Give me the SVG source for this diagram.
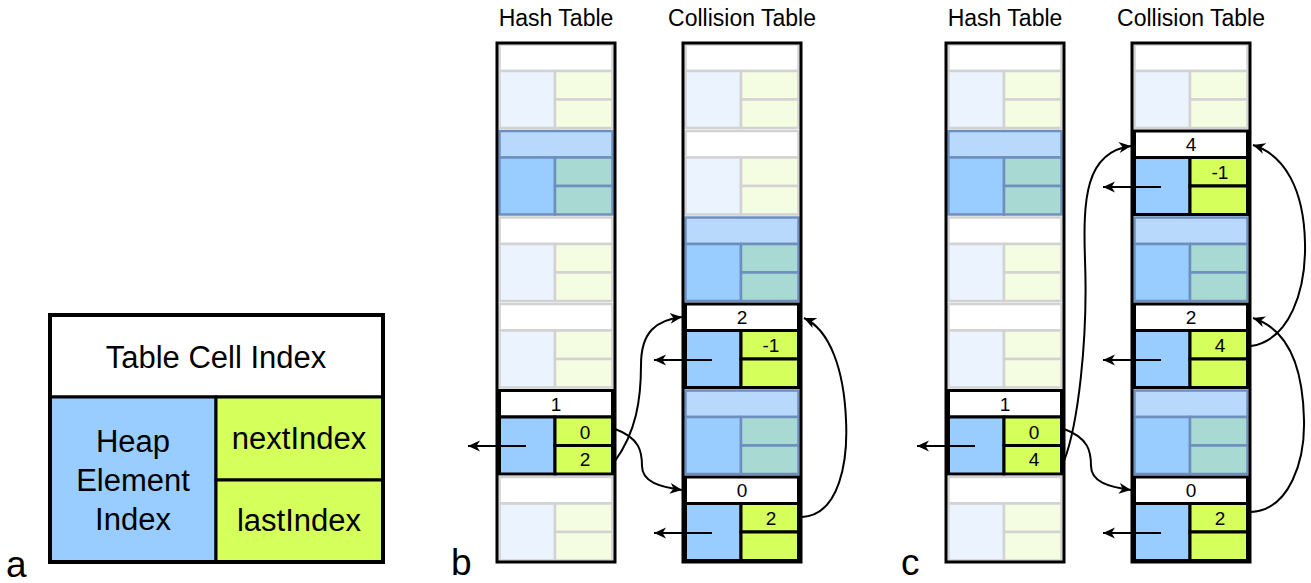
<svg xmlns="http://www.w3.org/2000/svg" xmlns:xlink="http://www.w3.org/1999/xlink" width="1311" height="583" viewBox="0 0 1311 583">
  <style>
    text { font-family: "Liberation Sans", Arial, sans-serif; fill: #000; }
    .num { font-size: 19px; text-anchor: middle; }
    .title { font-size: 23px; text-anchor: middle; }
    .panel { font-size: 37px; }
    .big { font-size: 31px; text-anchor: middle; }
    .frame { fill: none; stroke: #000; stroke-width: 3; }
    .conn { fill: none; stroke: #000; stroke-width: 2; }
    .e-h { fill: #ffffff; stroke: #d2d2d2; stroke-width: 2.5; }
    .e-l { fill: #ebf4fe; stroke: #d2d2d2; stroke-width: 2.5; }
    .e-r { fill: #f4fde1; stroke: #d2d2d2; stroke-width: 2.5; }
    .u-h { fill: #b8d8fc; stroke: #6d8fbd; stroke-width: 2.5; }
    .u-l { fill: #99ccff; stroke: #6d8fbd; stroke-width: 2.5; }
    .u-r { fill: #a8d9d2; stroke: #6d8fbd; stroke-width: 2.5; }
    .h-h { fill: #ffffff; stroke: #000; stroke-width: 3; }
    .h-l { fill: #99ccff; stroke: #000; stroke-width: 3; }
    .h-r { fill: #d5ff5b; stroke: #000; stroke-width: 3; }
  </style>
  <defs>
    <marker id="arrow" markerUnits="userSpaceOnUse" markerWidth="14" markerHeight="12" refX="12" refY="6" orient="auto">
      <path d="M0,0.5 L12,6 L0,11.5 L3.5,6 z" fill="#000"/>
    </marker>
    <!-- empty table cell -->
    <g id="cellEmpty">
      <rect class="e-h" x="2.5" y="1.5" width="113" height="26.5"/>
      <rect class="e-l" x="2.5" y="28" width="55.5" height="57"/>
      <rect class="e-r" x="58" y="28" width="57.5" height="28.5"/>
      <rect class="e-r" x="58" y="56.5" width="57.5" height="28.5"/>
    </g>
    <!-- occupied cell of another chain -->
    <g id="cellUsed">
      <rect class="u-h" x="2.5" y="1.5" width="113" height="26.5"/>
      <rect class="u-l" x="2.5" y="28" width="55.5" height="57"/>
      <rect class="u-r" x="58" y="28" width="57.5" height="28.5"/>
      <rect class="u-r" x="58" y="56.5" width="57.5" height="28.5"/>
    </g>
    <!-- highlighted cell of the chain -->
    <g id="cellHot">
      <rect class="h-h" x="2.5" y="1.5" width="113" height="26.5"/>
      <rect class="h-l" x="2.5" y="28" width="55.5" height="57"/>
      <rect class="h-r" x="58" y="28" width="57.5" height="28.5"/>
      <rect class="h-r" x="58" y="56.5" width="57.5" height="28.5"/>
    </g>
  </defs>

  <rect width="1311" height="583" fill="#fff"/>

  <!-- panel a: cell legend -->
  <g id="legend">
    <rect x="50" y="315" width="333" height="82" fill="#fff" stroke="#000" stroke-width="3"/>
    <rect x="50" y="397" width="166" height="165" fill="#99ccff" stroke="#000" stroke-width="3"/>
    <rect x="216" y="397" width="167" height="83" fill="#d5ff5b" stroke="#000" stroke-width="3"/>
    <rect x="216" y="480" width="167" height="82" fill="#d5ff5b" stroke="#000" stroke-width="3"/>
    <rect x="50" y="315" width="333" height="247" fill="none" stroke="#000" stroke-width="4"/>
    <text class="big" x="216" y="368">Table Cell Index</text>
    <text class="big" x="133" y="452">Heap</text>
    <text class="big" x="133" y="491">Element</text>
    <text class="big" x="133" y="530">Index</text>
    <text class="big" x="299" y="449">nextIndex</text>
    <text class="big" x="299" y="531">lastIndex</text>
  </g>
  <text class="panel" x="6" y="577">a</text>
  <text class="panel" x="451" y="575">b</text>
  <text class="panel" x="901" y="575">c</text>

  <!-- panel b titles -->
  <text class="title" x="556" y="26">Hash Table</text>
  <text class="title" x="742" y="26">Collision Table</text>
  <!-- panel c titles -->
  <text class="title" x="1005" y="26">Hash Table</text>
  <text class="title" x="1191" y="26">Collision Table</text>

  <!-- panel b: hash table -->
  <g id="b-hash">
    <g id="b-hash-0"><use xlink:href="#cellEmpty" x="497" y="43"/></g>
    <g id="b-hash-1"><use xlink:href="#cellUsed" x="497" y="129.5"/></g>
    <g id="b-hash-2"><use xlink:href="#cellEmpty" x="497" y="216"/></g>
    <g id="b-hash-3"><use xlink:href="#cellEmpty" x="497" y="302.5"/></g>
    <g id="b-hash-4">
      <use xlink:href="#cellHot" x="497" y="389"/>
      <text class="num" x="556" y="410.5">1</text>
      <text class="num" x="585" y="438.5">0</text>
      <text class="num" x="585" y="466">2</text>
    </g>
    <g id="b-hash-5"><use xlink:href="#cellEmpty" x="497" y="475.5"/></g>
    <rect class="frame" x="497" y="43" width="118" height="519"/>
  </g>

  <!-- panel b: collision table -->
  <g id="b-coll">
    <g id="b-coll-0"><use xlink:href="#cellEmpty" x="683" y="43"/></g>
    <g id="b-coll-1"><use xlink:href="#cellEmpty" x="683" y="129.5"/></g>
    <g id="b-coll-2"><use xlink:href="#cellUsed" x="683" y="216"/></g>
    <g id="b-coll-3">
      <use xlink:href="#cellHot" x="683" y="302.5"/>
      <text class="num" x="742" y="324">2</text>
      <text class="num" x="771" y="352">-1</text>
    </g>
    <g id="b-coll-4"><use xlink:href="#cellUsed" x="683" y="389"/></g>
    <g id="b-coll-5">
      <use xlink:href="#cellHot" x="683" y="475.5"/>
      <text class="num" x="742" y="497">0</text>
      <text class="num" x="771" y="525">2</text>
    </g>
    <rect class="frame" x="683" y="43" width="118" height="519"/>
  </g>

  <!-- panel c: hash table -->
  <g id="c-hash">
    <g id="c-hash-0"><use xlink:href="#cellEmpty" x="946" y="43"/></g>
    <g id="c-hash-1"><use xlink:href="#cellUsed" x="946" y="129.5"/></g>
    <g id="c-hash-2"><use xlink:href="#cellEmpty" x="946" y="216"/></g>
    <g id="c-hash-3"><use xlink:href="#cellEmpty" x="946" y="302.5"/></g>
    <g id="c-hash-4">
      <use xlink:href="#cellHot" x="946" y="389"/>
      <text class="num" x="1005" y="410.5">1</text>
      <text class="num" x="1034" y="438.5">0</text>
      <text class="num" x="1034" y="466">4</text>
    </g>
    <g id="c-hash-5"><use xlink:href="#cellEmpty" x="946" y="475.5"/></g>
    <rect class="frame" x="946" y="43" width="118" height="519"/>
  </g>

  <!-- panel c: collision table -->
  <g id="c-coll">
    <g id="c-coll-0"><use xlink:href="#cellEmpty" x="1132" y="43"/></g>
    <g id="c-coll-1">
      <use xlink:href="#cellHot" x="1132" y="129.5"/>
      <text class="num" x="1191" y="151">4</text>
      <text class="num" x="1220" y="179">-1</text>
    </g>
    <g id="c-coll-2"><use xlink:href="#cellUsed" x="1132" y="216"/></g>
    <g id="c-coll-3">
      <use xlink:href="#cellHot" x="1132" y="302.5"/>
      <text class="num" x="1191" y="324">2</text>
      <text class="num" x="1220" y="352">4</text>
    </g>
    <g id="c-coll-4"><use xlink:href="#cellUsed" x="1132" y="389"/></g>
    <g id="c-coll-5">
      <use xlink:href="#cellHot" x="1132" y="475.5"/>
      <text class="num" x="1191" y="497">0</text>
      <text class="num" x="1220" y="525">2</text>
    </g>
    <rect class="frame" x="1132" y="43" width="118" height="519"/>
  </g>

  <!-- connectors -->
  <g id="connectors">
    <!-- heap element pointers -->
    <line class="conn" x1="526" y1="446" x2="468" y2="446" marker-end="url(#arrow)"/>
    <line class="conn" x1="712" y1="360" x2="654" y2="360" marker-end="url(#arrow)"/>
    <line class="conn" x1="712" y1="533" x2="654" y2="533" marker-end="url(#arrow)"/>
    <line class="conn" x1="975" y1="446" x2="917" y2="446" marker-end="url(#arrow)"/>
    <line class="conn" x1="1161" y1="187" x2="1103" y2="187" marker-end="url(#arrow)"/>
    <line class="conn" x1="1161" y1="360" x2="1103" y2="360" marker-end="url(#arrow)"/>
    <line class="conn" x1="1161" y1="533" x2="1103" y2="533" marker-end="url(#arrow)"/>

    <!-- panel b chain links -->
    <path class="conn" d="M615,429 C640,438 642,452 642,466 C642,482 660,487 682,490" marker-end="url(#arrow)"/>
    <path class="conn" d="M615,461 C636,432 641,400 641,365 C641,332 656,320 682,317" marker-end="url(#arrow)"/>
    <path class="conn" d="M802,517 C840,515 848,460 846,420 C844,370 830,330 804,318" marker-end="url(#arrow)"/>

    <!-- panel c chain links -->
    <path class="conn" d="M1064,429 C1089,438 1091,452 1091,466 C1091,482 1109,487 1131,490" marker-end="url(#arrow)"/>
    <path class="conn" d="M1064,461 C1078,425 1088,340 1085,260 C1083,200 1085,152 1131,146" marker-end="url(#arrow)"/>
    <path class="conn" d="M1251,346 C1290,340 1306,290 1305,243 C1304,190 1285,155 1253,145" marker-end="url(#arrow)"/>
    <path class="conn" d="M1251,512 C1290,510 1305,460 1304,420 C1303,370 1290,330 1253,318" marker-end="url(#arrow)"/>
  </g>
</svg>
